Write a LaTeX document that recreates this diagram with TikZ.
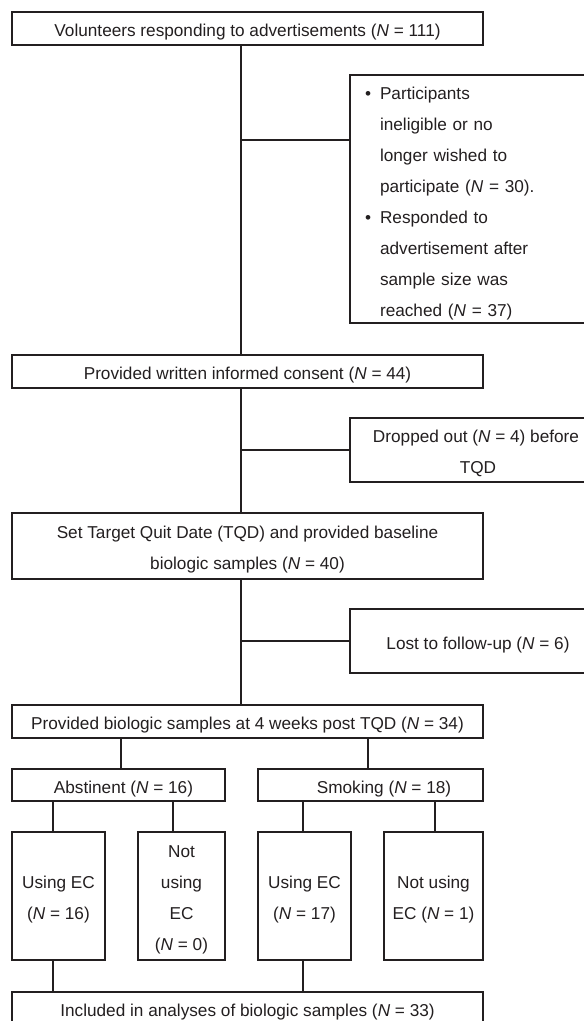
\documentclass[tikz,border=0pt]{standalone}
\usepackage{fontspec}
\setmainfont{Liberation Sans}
\definecolor{ink}{HTML}{231F20}
\tikzset{
  box/.style={draw=ink, line width=2.6pt, rectangle, inner sep=0pt, align=center, text=ink,
    font=\fontsize{17.2}{31}\selectfont},
  conn/.style={draw=ink, line width=2.6pt},
}
\newcommand{\NN}{\textit{N}}
\newcommand{\TS}{\rule{0pt}{20pt}}
\newcommand{\BS}{\rule[-4pt]{0pt}{4pt}}
\begin{document}
\begin{tikzpicture}[x=1pt,y=-1pt]
\useasboundingbox (0,0) rectangle (584,1021);
\fill[white] (0,0) rectangle (584,1021);
\begin{scope}
\clip (0,0) rectangle (584,1021);
\node[box, minimum width=471pt, minimum height=33pt] (A) at (247.5,28.5) {\TS Volunteers responding to advertisements (\NN{} = 111)\BS};
\node[box, minimum height=248pt, text width=226pt, inner xsep=15pt, align=left] (B) at (478,199)
 {\raisebox{-3pt}[\height][\depth]{\begin{tabular}{@{}l@{\hspace{9pt}}l@{}}
 \textbullet & Participants\\
  & ineligible or no\\
  & longer wished to\\
  & participate (\NN{} = 30).\\
 \textbullet & Responded to\\
  & advertisement after\\
  & sample size was\\
  & reached (\NN{} = 37)
 \end{tabular}}};
\node[box, minimum width=471pt, minimum height=33pt] (C) at (247.5,371.5) {\TS Provided written informed consent (\NN{} = 44)\BS};
\node[box, minimum width=256pt, minimum height=64pt] (D) at (478,450) {\TS\hspace*{-4pt}Dropped out (\NN{} = 4) before\\TQD\BS};
\node[box, minimum width=471pt, minimum height=66pt] (E) at (247.5,546) {\TS Set Target Quit Date (TQD) and provided baseline\\biologic samples (\NN{} = 40)\BS};
\node[box, minimum width=256pt, minimum height=64pt] (F) at (478,641) {\TS Lost to follow-up (\NN{} = 6)\BS};
\node[box, minimum width=471pt, minimum height=33pt] (G) at (247.5,721.5) {\TS Provided biologic samples at 4 weeks post TQD (\NN{} = 34)\BS};
\node[box, minimum width=213pt, minimum height=32pt] (H) at (118.5,785) {\TS\hspace*{10pt}Abstinent (\NN{} = 16)\BS};
\node[box, minimum width=225pt, minimum height=32pt] (I) at (370.5,785) {\TS\hspace*{27pt}Smoking (\NN{} = 18)\BS};
\node[box, minimum width=93pt, minimum height=128pt] (J1) at (58.5,896) {\TS Using EC\\(\NN{} = 16)\BS};
\node[box, minimum width=87pt, minimum height=128pt] (J2) at (181.5,896) {\TS Not\\using\\EC\\(\NN{} = 0)\BS};
\node[box, minimum width=93pt, minimum height=128pt] (J3) at (304.5,896) {\TS Using EC\\(\NN{} = 17)\BS};
\node[box, minimum width=99pt, minimum height=128pt] (J4) at (433.5,896) {\TS Not using\\EC (\NN{} = 1)\BS};
\node[box, minimum width=471pt, minimum height=33pt] (K) at (247.5,1008.5) {\TS Included in analyses of biologic samples (\NN{} = 33)\BS};

\coordinate (t) at (241,0);
\coordinate (b1) at (241,140);
\coordinate (g1) at (121,0);
\coordinate (g2) at (368,0);
\coordinate (h1) at (53,0);
\coordinate (h2) at (173,0);
\coordinate (i1) at (303,0);
\coordinate (i2) at (435,0);

\draw[conn] (A.south -| t) -- (C.north -| t);
\draw[conn] (b1) -- (b1 -| B.west);
\draw[conn] (C.south -| t) -- (E.north -| t);
\draw[conn] (D.west -| t) -- (D.west);
\draw[conn] (E.south -| t) -- (G.north -| t);
\draw[conn] (F.west -| t) -- (F.west);
\draw[conn] (G.south -| g1) -- (H.north -| g1);
\draw[conn] (G.south -| g2) -- (I.north -| g2);
\draw[conn] (H.south -| h1) -- (J1.north -| h1);
\draw[conn] (H.south -| h2) -- (J2.north -| h2);
\draw[conn] (I.south -| i1) -- (J3.north -| i1);
\draw[conn] (I.south -| i2) -- (J4.north -| i2);
\draw[conn] (J1.south -| h1) -- (K.north -| h1);
\draw[conn] (J3.south -| i1) -- (K.north -| i1);
\end{scope}
\end{tikzpicture}
\end{document}
